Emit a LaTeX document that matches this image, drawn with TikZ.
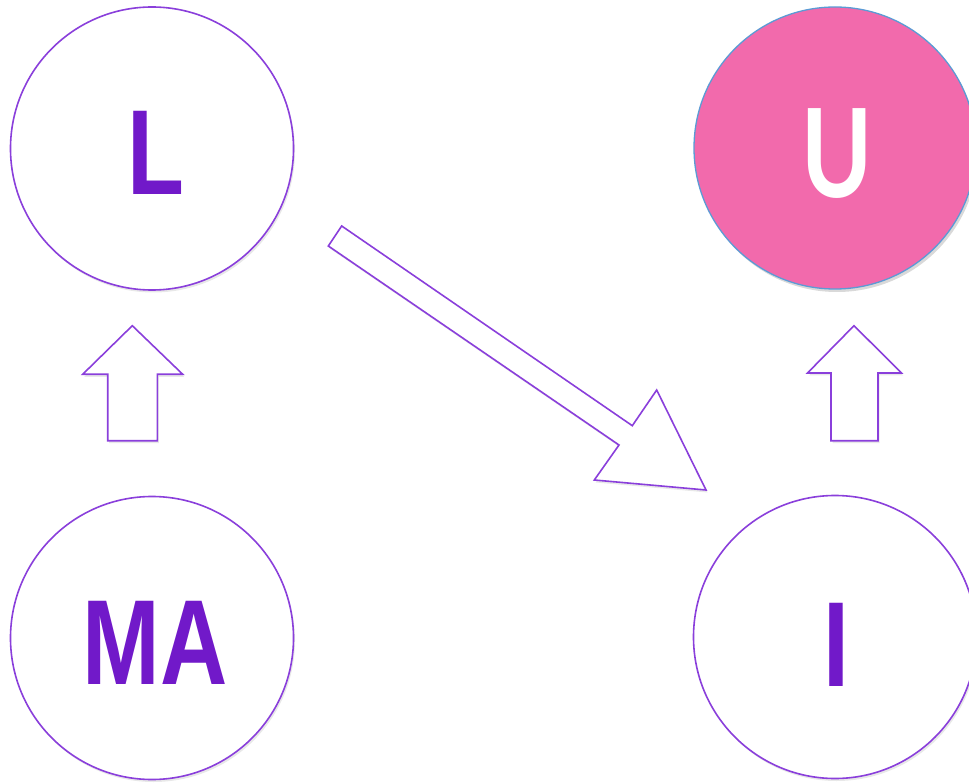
\documentclass[tikz,border=0pt]{standalone}
\usepackage{fontspec}
\setmainfont{Liberation Sans}
\newfontfamily\ufont{Lato}
\usetikzlibrary{shadows}
\definecolor{txtpurple}{HTML}{7119C9}
\definecolor{linepurple}{HTML}{8A3FDB}
\definecolor{upink}{HTML}{F26AAC}
\definecolor{ublue}{HTML}{5B9BD5}
\newcommand\bigtxt[1]{\fontsize{121}{121}\selectfont\bfseries\scalebox{0.77}[1]{#1}}
\newcommand\utxt[1]{\ufont\fontsize{123}{123}\selectfont\bfseries\scalebox{0.78}[1]{#1}}
\tikzset{
  circ/.style={circle, draw=linepurple, line width=1.6pt, fill=white, minimum size=283pt, inner sep=0pt,
    drop shadow={shadow xshift=1.5pt, shadow yshift=-2.5pt, opacity=0.18}},
  ucirc/.style={circle, draw=ublue, line width=1.3pt, fill=upink, minimum size=282pt, inner sep=0pt,
    drop shadow={shadow xshift=2pt, shadow yshift=-3pt, opacity=0.3}},
  txt/.style={inner sep=0pt, text=txtpurple},
  blockarrow/.style={draw=linepurple, line width=1.6pt, fill=white, line join=miter,
    drop shadow={shadow xshift=1.5pt, shadow yshift=-2.5pt, opacity=0.18}},
}
\begin{document}
\begin{tikzpicture}[x=1pt,y=-1pt]
\useasboundingbox (0,0) rectangle (969,783);
% circles
\node[circ] (L) at (152,148.5) {};
\node[ucirc] (U) at (835,148) {};
\node[circ] (MA) at (152,638) {};
\node[circ] (I) at (835,637) {};
% texts
\node[txt] (Lt) at (155.5,153) {\bigtxt{L}};
\node[txt] (MAt) at (155,642.5) {\bigtxt{MA}};
\node[txt] (It) at (836,645) {\bigtxt{I}};
\node[inner sep=0pt, text=white] (Ut) at (837,154) {\utxt{U}};
% up arrows
\path[blockarrow] (132.3,325.7) -- (182.7,374.3) -- (157.3,374.3) -- (157.3,440.7)
  -- (107.7,440.7) -- (107.7,374.3) -- (82.7,374.3) -- cycle;
\path[blockarrow] (854,325.7) -- (901.5,373) -- (878,373) -- (878,440.7)
  -- (831,440.7) -- (831,373) -- (807.5,373) -- cycle;
% diagonal arrow
\path[blockarrow] (341.7,226) -- (632.3,425.7) -- (656.7,390) -- (706,490)
  -- (594.3,480) -- (619,445) -- (328.3,246) -- cycle;
\end{tikzpicture}
\end{document}
